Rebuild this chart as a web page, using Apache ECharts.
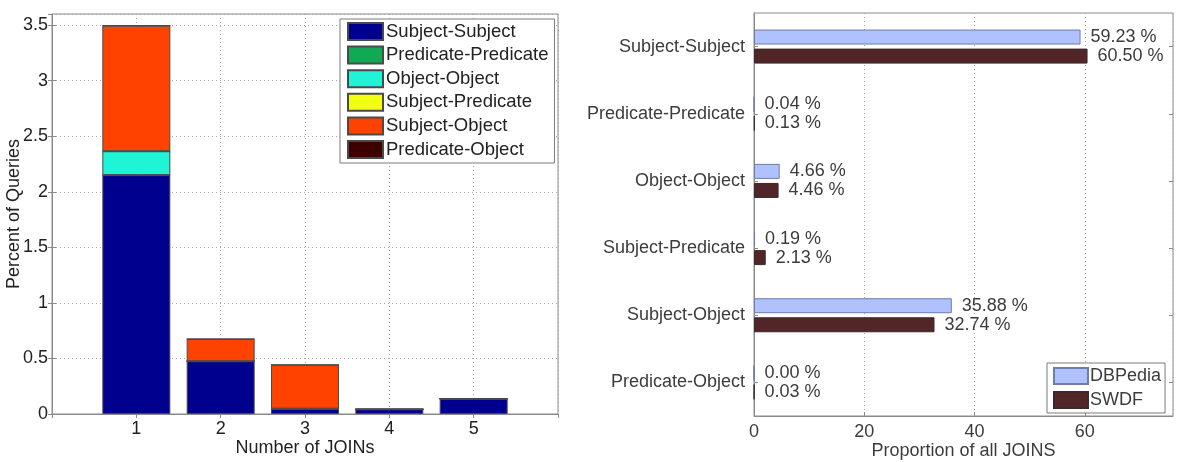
<!DOCTYPE html>
<html>
<head>
<meta charset="utf-8">
<script src="https://cdn.jsdelivr.net/npm/echarts@6/dist/echarts.min.js"></script>
<style>
html,body{margin:0;padding:0;background:#fff;}
#c{width:1177px;height:462px;}
</style>
</head>
<body>
<div id="c"></div>
<script>
// ---- Left chart data ----
const joinCounts = [1, 2, 3, 4, 5];
const joinTypes = ['Subject-Subject', 'Predicate-Predicate', 'Object-Object', 'Subject-Predicate', 'Subject-Object', 'Predicate-Object'];
const subjSubj = [2.15, 0.475, 0.048, 0.042, 0.138];
const predPred = [0, 0, 0, 0, 0];
const objObj = [0.215, 0, 0, 0, 0];
const subjPred = [0, 0, 0, 0, 0];
const subjObj = [1.13, 0.20, 0.394, 0, 0];
const predObj = [0, 0, 0, 0, 0];
const leftYTicks = [0, 0.5, 1, 1.5, 2, 2.5, 3, 3.5];

// ---- Right chart data ----
const propCategories = ['Subject-Subject', 'Predicate-Predicate', 'Object-Object', 'Subject-Predicate', 'Subject-Object', 'Predicate-Object'];
const dbpedia = [59.23, 0.04, 4.66, 0.19, 35.88, 0.00];
const swdf = [60.50, 0.13, 4.46, 2.13, 32.74, 0.03];
const rightXTicks = [0, 20, 40, 60];

const leftSeriesVals = [subjSubj, predPred, objObj, subjPred, subjObj, predObj];
const leftColors = ['#00008f', '#12a955', '#1ff5d6', '#f2ff10', '#ff4200', '#3d0000'];

const FONT = 'Liberation Sans, Arial, Helvetica, sans-serif';
const AXC = '#8a8a8a';
const GRIDC = '#a8a8a8';

// data stored as [value, joinCount] so that the stacked dimension is the value (y)
const leftSeries = leftSeriesVals.map((vals, i) => ({
  name: joinTypes[i],
  type: 'bar',
  stack: 'joins',
  xAxisIndex: 0,
  yAxisIndex: 0,
  barWidth: 68,
  encode: { x: 1, y: 0 },
  itemStyle: { color: leftColors[i], borderColor: '#4a4a4a', borderWidth: 1 },
  data: joinCounts.map((x, k) => [vals[k], x])
}));

const rightSeries = [
  { name: 'DBPedia', vals: dbpedia, color: '#b0c1ff', border: '#6f7ca8' },
  { name: 'SWDF', vals: swdf, color: '#522629', border: '#3a2a2a' }
].map(s => ({
  name: s.name,
  type: 'bar',
  xAxisIndex: 2,
  yAxisIndex: 2,
  barWidth: 15,
  barGap: '27%',
  itemStyle: { color: s.color, borderColor: s.border, borderWidth: 1 },
  label: {
    show: true, position: 'right', distance: 10,
    fontSize: 18, color: '#3c3c3c', fontFamily: FONT,
    formatter: p => p.value.toFixed(2) + ' %'
  },
  data: s.vals
}));

const chart = echarts.init(document.getElementById('c'), null, { renderer: 'canvas' });
chart.setOption({
  animation: false,
  backgroundColor: '#fff',
  textStyle: { fontFamily: FONT },
  grid: [
    { left: 52, top: 14, width: 506, height: 400, outerBoundsMode: 'none', containLabel: false,
      show: true, borderColor: AXC, borderWidth: 1, backgroundColor: '#fff' },
    { left: 754, top: 13, width: 419, height: 403, outerBoundsMode: 'none', containLabel: false,
      show: true, borderColor: AXC, borderWidth: 1, backgroundColor: '#fff' }
  ],
  legend: [
    {
      data: joinTypes,
      orient: 'vertical',
      left: 340, top: 19,
      padding: [3, 6, 4, 7],
      itemWidth: 35, itemHeight: 17, itemGap: 4.6,
      backgroundColor: '#fff', borderColor: '#7a7a7a', borderWidth: 1,
      icon: 'rect',
      textStyle: { fontSize: 18.5, color: '#222', fontFamily: FONT, lineHeight: 17, padding: [0, 0, 0, -2] }
    },
    {
      data: ['DBPedia', 'SWDF'],
      orient: 'vertical',
      left: 1047, top: 363,
      padding: [4, 4, 4, 6],
      itemWidth: 34, itemHeight: 16, itemGap: 6,
      backgroundColor: '#fff', borderColor: '#7a7a7a', borderWidth: 1,
      icon: 'rect',
      textStyle: { fontSize: 18, color: '#3c3c3c', fontFamily: FONT, lineHeight: 16, padding: [0, 0, 0, -3] }
    }
  ],
  xAxis: [
    {
      gridIndex: 0, type: 'value', min: 0, max: 6, interval: 1,
      name: 'Number of JOINs', nameLocation: 'middle', nameGap: 25, nameMoveOverlap: false,
      nameTextStyle: { fontSize: 18, color: '#222', fontFamily: FONT },
      axisLabel: { showMinLabel: false, showMaxLabel: false, fontSize: 18, color: '#222', margin: 6 },
      axisLine: { show: true, lineStyle: { color: AXC } },
      axisTick: { show: true, inside: true, length: 4, lineStyle: { color: AXC } },
      splitLine: { show: true, lineStyle: { color: GRIDC, type: [1, 3] } }
    },
    {
      gridIndex: 0, type: 'value', position: 'top', min: 0, max: 6, interval: 1,
      axisLabel: { show: false }, axisLine: { show: false },
      axisTick: { show: true, inside: true, length: 4, lineStyle: { color: AXC } },
      splitLine: { show: false }
    },
    {
      gridIndex: 1, type: 'value', min: 0, max: 76, interval: 20,
      name: 'Proportion of all JOINS', nameLocation: 'middle', nameGap: 26, nameMoveOverlap: false,
      nameTextStyle: { fontSize: 18, color: '#3c3c3c', fontFamily: FONT },
      axisLabel: { showMaxLabel: false, fontSize: 18, color: '#3c3c3c', margin: 7,
        formatter: v => rightXTicks.indexOf(v) >= 0 ? String(v) : '' },
      axisLine: { show: true, lineStyle: { color: AXC } },
      axisTick: { show: true, inside: true, length: 4, lineStyle: { color: AXC } },
      splitLine: { show: true, lineStyle: { color: GRIDC, type: [1, 3] } }
    }
  ],
  yAxis: [
    {
      gridIndex: 0, type: 'value', min: 0, max: 3.6, interval: 0.5,
      name: 'Percent of Queries', nameLocation: 'middle', nameGap: 29, nameMoveOverlap: false,
      nameTextStyle: { fontSize: 18, color: '#222', fontFamily: FONT },
      axisLabel: { showMaxLabel: false, fontSize: 18, color: '#222', margin: 4,
        formatter: v => leftYTicks.indexOf(v) >= 0 ? String(v) : '' },
      axisLine: { show: true, lineStyle: { color: AXC } },
      axisTick: { show: true, inside: true, length: 4, lineStyle: { color: AXC } },
      splitLine: { show: true, lineStyle: { color: GRIDC, type: [1, 3] } }
    },
    {
      gridIndex: 0, type: 'value', position: 'right', min: 0, max: 3.6, interval: 0.5,
      axisLabel: { show: false }, axisLine: { show: false },
      axisTick: { show: true, inside: true, length: 4, lineStyle: { color: AXC } },
      splitLine: { show: false }
    },
    {
      gridIndex: 1, type: 'category', inverse: true, data: propCategories,
      axisLabel: { fontSize: 18, color: '#3c3c3c', margin: 9 },
      axisLine: { show: true, lineStyle: { color: AXC } },
      axisTick: { show: true, inside: true, alignWithLabel: true, length: 4, lineStyle: { color: AXC } },
      splitLine: { show: false }
    },
    {
      gridIndex: 1, type: 'category', inverse: true, position: 'right', data: propCategories,
      axisLabel: { show: false }, axisLine: { show: false },
      axisTick: { show: true, inside: true, alignWithLabel: true, length: 4, lineStyle: { color: AXC } },
      splitLine: { show: false }
    }
  ],
  series: leftSeries.concat(rightSeries)
});
</script>
</body>
</html>
